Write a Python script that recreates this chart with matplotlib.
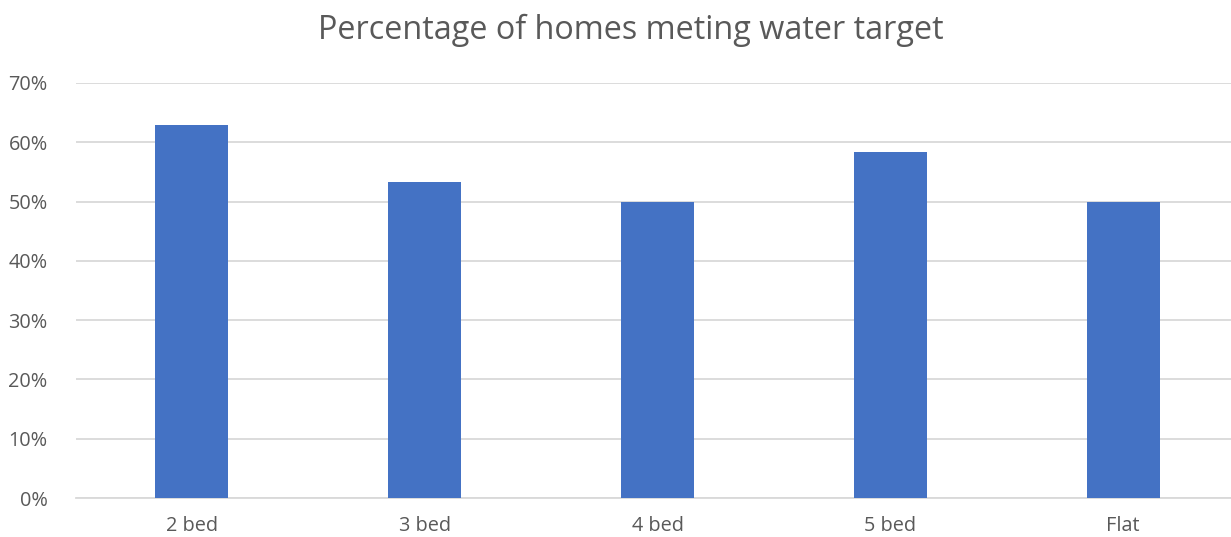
import matplotlib
matplotlib.use("Agg")
import matplotlib.pyplot as plt
from matplotlib.ticker import PercentFormatter

categories = ["2 bed", "3 bed", "4 bed", "5 bed", "Flat"]
values = [0.63, 0.533, 0.50, 0.583, 0.50]
yticks = [0, 0.1, 0.2, 0.3, 0.4, 0.5, 0.6, 0.7]

W, H = 1231, 537
fig = plt.figure(figsize=(W / 100, H / 100), dpi=100)
plt.rcParams["font.family"] = ["Open Sans", "DejaVu Sans"]

left, right = 75.5, 1239.5
top, bottom = 83, 498
ax = fig.add_axes([left / W, 1 - bottom / H, (right - left) / W, (bottom - top) / H])

x = range(len(categories))
ax.bar(x, values, width=0.313, color="#4472C4", zorder=3)
ax.set_xlim(-0.5, len(categories) - 0.5)
ax.set_ylim(0, 0.7)
ax.set_yticks(yticks)
ax.yaxis.set_major_formatter(PercentFormatter(1.0, decimals=0))
ax.set_xticks(list(x))
ax.set_xticklabels(categories)

ax.grid(axis="y", color="#D9D9D9", linewidth=1.3, zorder=0)
for s in ["top", "right", "left"]:
    ax.spines[s].set_visible(False)
ax.spines["bottom"].set_color("#D9D9D9")
ax.spines["bottom"].set_linewidth(1.3)
ax.tick_params(axis="both", length=0, colors="#595959", labelsize=14.3)
ax.tick_params(axis="y", pad=20)
ax.tick_params(axis="x", pad=13)

fig.text(631 / W, 1 - 30 / H, "Percentage of homes meting water target",
         ha="center", va="center", fontsize=23.3, color="#595959")

fig.savefig("out.png", dpi=100)
